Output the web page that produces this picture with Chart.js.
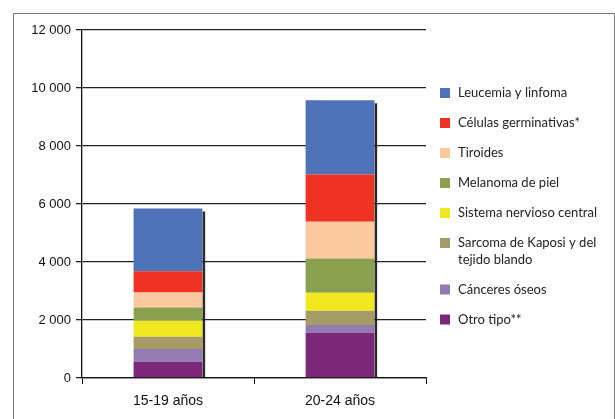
<!DOCTYPE html>
<html>
<head>
<meta charset="utf-8">
<script src="https://cdn.jsdelivr.net/npm/chart.js@4/dist/chart.umd.min.js"></script>
<style>
  html, body { margin: 0; padding: 0; background: #fff; }
  #wrap { position: relative; width: 615px; height: 419px; }
</style>
</head>
<body>
<div id="wrap"><canvas id="c" width="615" height="419"></canvas></div>
<script>
// Age groups on the x axis
const categories = ['15-19 años', '20-24 años'];

// Cancer types, bottom of the stack first
const seriesNames = [
  'Otro tipo**',
  'Cánceres óseos',
  'Sarcoma de Kaposi y del\ntejido blando',
  'Sistema nervioso central',
  'Melanoma de piel',
  'Tiroides',
  'Células germinativas*',
  'Leucemia y linfoma'
];

// Number of cases per type, one value per age group
const otroTipo        = [560, 1560];
const canceresOseos   = [440, 265];
const sarcomaKaposi   = [420, 495];
const sistemaNervioso = [550, 620];
const melanomaPiel    = [460, 1185];
const tiroides        = [520, 1265];
const celulasGerm     = [735, 1630];
const leucemiaLinfoma = [2160, 2560];

const seriesValues = [otroTipo, canceresOseos, sarcomaKaposi, sistemaNervioso,
                      melanomaPiel, tiroides, celulasGerm, leucemiaLinfoma];

const seriesColors = ['#7B277A', '#927BB0', '#A69B67', '#F2E81F',
                      '#8AA04E', '#FCC99E', '#EE3322', '#4E72B8'];

// Y axis tick values
const yTicks = [0, 2000, 4000, 6000, 8000, 10000, 12000];

function fmt(v) {
  return String(v).replace(/\B(?=(\d{3})+(?!\d))/g, ' ');
}

const datasets = seriesNames.map((name, i) => ({
  label: name,
  data: seriesValues[i],
  backgroundColor: seriesColors[i],
  borderWidth: 0,
  categoryPercentage: 1.0,
  barPercentage: 0.4
}));

// Outer frame of the figure
const framePlugin = {
  id: 'frame',
  beforeDraw(chart) {
    const ctx = chart.ctx;
    ctx.save();
    ctx.strokeStyle = '#777';
    ctx.lineWidth = 1;
    ctx.beginPath();
    ctx.moveTo(13.5, chart.height + 2);
    ctx.lineTo(13.5, 13.5);
    ctx.lineTo(614.5, 13.5);
    ctx.stroke();
    ctx.beginPath();
    ctx.moveTo(614.5, 13.5);
    ctx.lineTo(614.5, chart.height + 2);
    ctx.stroke();
    ctx.restore();
  }
};

// Dark shadow along the right edge of each stacked column
const shadowPlugin = {
  id: 'barShadow',
  afterDatasetsDraw(chart) {
    const ctx = chart.ctx;
    const metas = chart.getSortedVisibleDatasetMetas();
    const top = metas[metas.length - 1];
    const bottom = metas[0];
    ctx.save();
    top.data.forEach((el, i) => {
      const p = el.getProps(['x', 'y', 'width'], true);
      const b = bottom.data[i].getProps(['base'], true);
      const x = p.x + p.width / 2 + 1.5;
      ctx.strokeStyle = 'rgba(20,20,20,0.9)';
      ctx.lineWidth = 2.5;
      ctx.beginPath();
      ctx.moveTo(x, p.y + 3);
      ctx.lineTo(x, b.base);
      ctx.stroke();
    });
    ctx.restore();
  }
};

// Legend to the right, top of the stack listed first
const legendPlugin = {
  id: 'sideLegend',
  afterDraw(chart) {
    const ctx = chart.ctx;
    ctx.save();
    const boxX = 440, textX = 458, lineH = 16.5, gap = 30;
    let y = 93;
    ctx.font = '13px Lato, "Open Sans", sans-serif';
    ctx.textBaseline = 'middle';
    for (let i = chart.data.datasets.length - 1; i >= 0; i--) {
      const ds = chart.data.datasets[i];
      ctx.fillStyle = ds.backgroundColor;
      ctx.fillRect(boxX, y - 5, 10, 10);
      ctx.fillStyle = '#222';
      const lines = ds.label.split('\n');
      lines.forEach((ln, k) => ctx.fillText(ln, textX, y + k * lineH));
      y += gap + (lines.length - 1) * lineH;
    }
    ctx.restore();
  }
};

new Chart(document.getElementById('c'), {
  type: 'bar',
  data: { labels: categories, datasets },
  options: {
    responsive: false,
    animation: false,
    layout: { padding: { top: 30, right: 189, left: 0, bottom: 0 } },
    plugins: {
      legend: { display: false },
      tooltip: { enabled: false }
    },
    scales: {
      x: {
        stacked: true,
        offset: true,
        grid: {
          offset: true,
          drawOnChartArea: false,
          drawTicks: true,
          tickLength: 6,
          color: '#111',
          lineWidth: 1
        },
        border: { display: true, color: '#111', width: 1.3 },
        ticks: {
          color: '#111',
          padding: 9,
          font: { family: '"Liberation Sans", Arial, sans-serif', size: 14 }
        },
        afterFit(scale) { scale.height = 41; }
      },
      y: {
        stacked: true,
        min: 0,
        max: 12000,
        afterBuildTicks(scale) { scale.ticks = yTicks.map(v => ({ value: v })); },
        grid: {
          color: '#222',
          lineWidth: 1.3,
          drawTicks: true,
          tickLength: 6
        },
        border: { display: true, color: '#111', width: 1.3 },
        ticks: {
          color: '#111',
          padding: 5,
          font: { family: '"Liberation Sans", Arial, sans-serif', size: 13 },
          callback: v => fmt(v)
        },
        afterFit(scale) { scale.width = 82; }
      }
    }
  },
  plugins: [framePlugin, shadowPlugin, legendPlugin]
});
</script>
</body>
</html>
